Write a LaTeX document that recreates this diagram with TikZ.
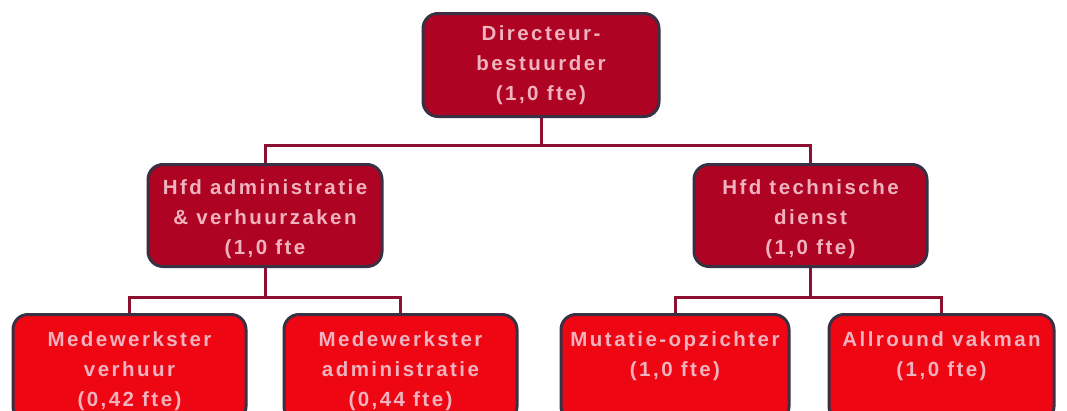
\documentclass[tikz,border=0pt]{standalone}
\usepackage{fontspec}
\newfontfamily\orgfont{Liberation Sans Bold}[LetterSpace=12]
\definecolor{headfill}{HTML}{AE0322}
\definecolor{stafffill}{HTML}{EE0712}
\definecolor{boxedge}{HTML}{3A3044}
\definecolor{boxtext}{HTML}{F0B2BE}
\definecolor{linkcol}{HTML}{8E1030}
\tikzset{
  orgbox/.style={draw=boxedge, line width=3pt, rounded corners=15pt,
    anchor=north, align=center, inner xsep=2pt, inner ysep=8pt,
    text=boxtext, font=\orgfont\fontsize{20.5}{30}\selectfont},
  headbox/.style={orgbox, fill=headfill},
  staffbox/.style={orgbox, fill=stafffill, inner ysep=14pt},
  link/.style={draw=linkcol, line width=3pt}
}
\begin{document}
\begin{tikzpicture}[x=1pt, y=-1pt]
\clip (0,0) rectangle (1067,410);
\fill[white] (0,0) rectangle (1067,410);

% management
\node[headbox, minimum width=236pt, text height=79pt, text depth=8pt] (dir) at (541,12)
  {Directeur-\\bestuurder\\(1,0 fte)};
\node[headbox, minimum width=234pt, text height=82pt, text depth=4pt] (adm) at (265,163)
  {Hfd administratie\\\& verhuurzaken\\(1,0 fte};
\node[headbox, minimum width=233pt, text height=82pt, text depth=4pt] (tech) at (810.5,163)
  {Hfd technische\\dienst\\(1,0 fte)};

% staff
\node[staffbox, minimum width=233pt, text height=78pt, text depth=1pt] (verh) at (129.5,313)
  {Medewerkster\\verhuur\\(0,42 fte)};
\node[staffbox, minimum width=233pt, text height=78pt, text depth=1pt] (admw) at (400.5,313)
  {Medewerkster\\administratie\\(0,44 fte)};
\node[staffbox, minimum width=228pt, text height=48pt, text depth=31pt] (mut) at (675,313)
  {Mutatie-opzichter\\(1,0 fte)};
\node[staffbox, minimum width=225pt, text height=48pt, text depth=31pt] (vak) at (941.5,313)
  {Allround vakman\\(1,0 fte)};

% reporting lines
\coordinate (busA) at (541,145);
\coordinate (busB) at (265,297);
\coordinate (busC) at (810.5,297);
\draw[link] (dir.south) -- (busA) -| (adm.north);
\draw[link] (busA) -| (tech.north);
\draw[link] (adm.south) -- (busB) -| (verh.north);
\draw[link] (busB) -| (admw.north);
\draw[link] (tech.south) -- (busC) -| (mut.north);
\draw[link] (busC) -| (vak.north);
\end{tikzpicture}
\end{document}
